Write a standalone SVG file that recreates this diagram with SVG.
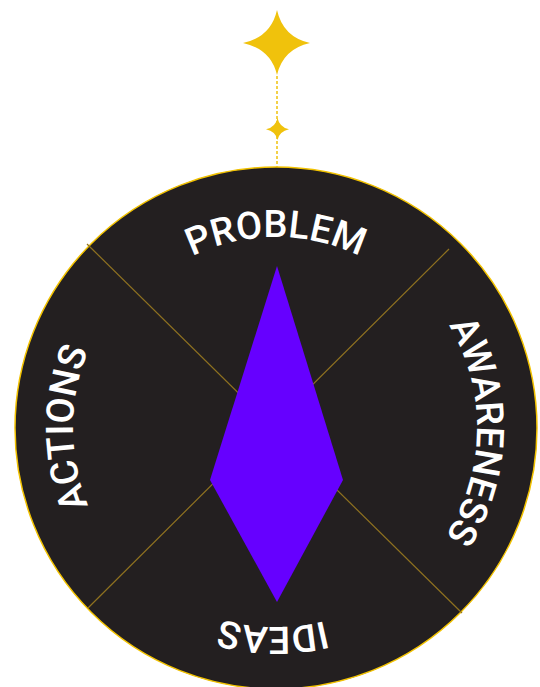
<svg xmlns="http://www.w3.org/2000/svg" width="540" height="687" viewBox="0 0 540 687">
<style>
.lbl{font-family:Roboto,"Liberation Sans",sans-serif;font-weight:500;font-size:38px;fill:#ffffff;letter-spacing:0px}
.star{fill:#f0c20c}
.div{stroke:#8f7220;stroke-width:1.2;fill:none}
</style>
<defs>
<path id="pProblem" d="M 85 428 A 191 191 0 0 1 467 428"/>
<path id="pAware" d="M 276 227 A 200 200 0 0 1 276 629"/>
<path id="pActions" d="M 276 631 A 203 203 0 0 1 276 225"/>
<path id="pIdeas" d="M 475 428 A 199 199 0 0 1 77 428"/>
</defs>
<rect width="540" height="687" fill="#ffffff"/>
<g id="wheel">
<circle cx="276" cy="428" r="261" fill="#231f20" stroke="#f2c200" stroke-width="1.5"/>
</g>
<g id="connectors">
<line class="div" x1="87" y1="244" x2="462" y2="613"/>
<line class="div" x1="449" y1="249" x2="88" y2="608"/>
<line x1="277" y1="76" x2="277" y2="167" stroke="#f0c20c" stroke-width="1.5" stroke-dasharray="3 2"/>
</g>
<g id="star-large">
<path class="star" d="M 277 10 Q 283 37 310 43 Q 283 49 277 75 Q 271 49 243 43 Q 271 37 277 10 Z"/>
</g>
<g id="star-small">
<path class="star" d="M 277.5 118 Q 279.5 127.3 289 129.3 Q 279.5 131.3 277.5 140 Q 275.5 131.3 266 129.3 Q 275.5 127.3 277.5 118 Z"/>
</g>
<g id="diamond">
<polygon points="277,266 343,480 277,602 210,480" fill="#6600ff"/>
</g>
<g id="problem">
<text class="lbl"><textPath href="#pProblem" startOffset="50%" text-anchor="middle">PROBLEM</textPath></text>
</g>
<g id="awareness">
<text class="lbl"><textPath href="#pAware" startOffset="50.5%" text-anchor="middle">AWARENESS</textPath></text>
</g>
<g id="ideas">
<text class="lbl"><textPath href="#pIdeas" startOffset="50.5%" text-anchor="middle">IDEAS</textPath></text>
</g>
<g id="actions">
<text class="lbl"><textPath href="#pActions" startOffset="50%" text-anchor="middle">ACTIONS</textPath></text>
</g>
</svg>
